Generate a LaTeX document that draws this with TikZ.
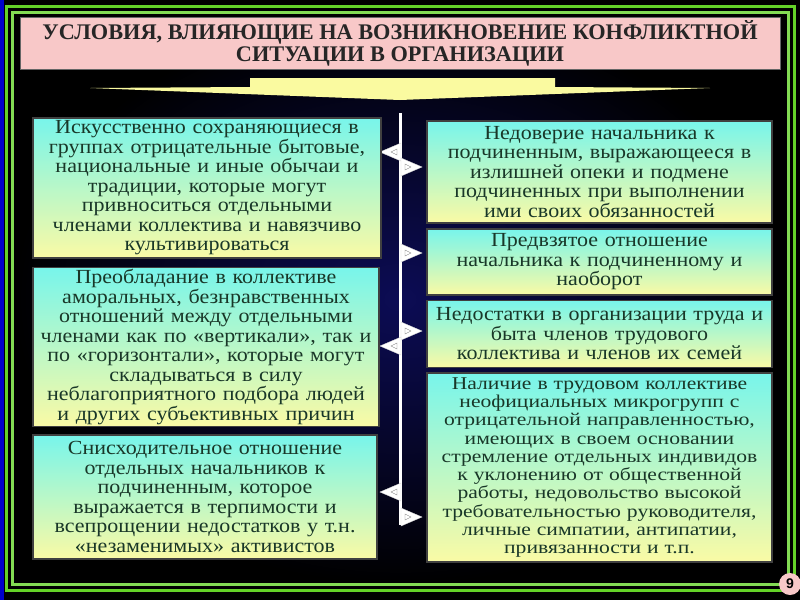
\documentclass[tikz,border=0pt]{standalone}
\usepackage{fontspec}
\setmainfont{Liberation Serif}
\setsansfont{Liberation Sans}
\newfontfamily\boxfont{Liberation Serif}[FakeStretch=1.1]
\newfontfamily\wideboxfont{Liberation Serif}[FakeStretch=1.2]
\usetikzlibrary{shapes.geometric, positioning, calc}

\definecolor{framegreen}{RGB}{100,210,40}
\definecolor{titlepink}{RGB}{248,200,200}
\definecolor{boxtop}{RGB}{120,245,235}
\definecolor{boxbot}{RGB}{250,250,165}
\definecolor{boxtext}{RGB}{25,55,40}
\definecolor{arrowyellow}{RGB}{250,250,160}
\definecolor{navy}{RGB}{12,12,85}

\begin{document}
\begin{tikzpicture}[x=1pt, y=-1pt,
  causebox/.style={draw=black!75, line width=1.5pt, top color=boxtop, bottom color=boxbot,
    text=boxtext, align=center, inner sep=1pt,
    font=\boxfont\fontsize{20}{19.5}\selectfont},
  flagmark/.style={fill=white, draw=white!85!black, line width=0.4pt}]
  \useasboundingbox (0,0) rectangle (800,600);

  % Background and frame
  \fill[black] (0,0) rectangle (800,600);
  \fill[blue!80!black] (0,0) rectangle (4,600);
  \shade[inner color=navy, outer color=black] (14,14) rectangle (786,584);
  \draw[framegreen, line width=3pt] (6,6) rectangle (794,590);
  \draw[framegreen!80!white, line width=3pt] (12,12) rectangle (788,584);

  % Title
  \node[fill=titlepink, draw=black!60, minimum width=760, minimum height=47,
    text=black!85, font=\fontsize{22.3}{22}\selectfont\bfseries, align=center]
    (title) at (400,43) {УСЛОВИЯ, ВЛИЯЮЩИЕ НА ВОЗНИКНОВЕНИЕ КОНФЛИКТНОЙ\\СИТУАЦИИ В ОРГАНИЗАЦИИ};

  % Flat arrow under the title
  \fill[arrowyellow] (250,78) -- (555,78) -- (555,87) -- (710,88) -- (400,100)
    -- (90,88) -- (250,87) -- cycle;

  % Spine
  \coordinate (top) at (400,113);
  \coordinate (bot) at (400,525);
  \draw[white, line width=3pt] (top) -- (bot);

  % Flags on the spine (y / side)
  \foreach \y/\d in {152/-1, 167/1, 253/1, 331/1, 346/-1, 492/-1, 517/1} {
    \filldraw[flagmark] (401,\y-9) -- (401+\d*21,\y) -- (401,\y+9) -- cycle;
    \draw[gray, line width=0.4pt] (401+\d*4,\y-3) -- (401+\d*10,\y) -- (401+\d*4,\y+3) -- cycle;
  }

  % Left column
  \node[causebox, minimum width=348, minimum height=140, text width=344] (l1) at (207,188)
    {Искусственно сохраняющиеся в\\группах отрицательные бытовые,\\национальные и иные обычаи и\\традиции, которые могут\\привноситься отдельными\\членами коллектива и навязчиво\\культивироваться};
  \node[causebox, minimum width=346, minimum height=159, text width=342] (l2) at (206,347)
    {Преобладание в коллективе\\аморальных, безнравственных\\отношений между отдельными\\членами как по «вертикали», так и\\по «горизонтали», которые могут\\складываться в силу\\неблагоприятного подбора людей\\и других субъективных причин};
  \node[causebox, minimum width=344, minimum height=124, text width=340] (l3) at (205,497)
    {Снисходительное отношение\\отдельных начальников к\\подчиненным, которое\\выражается в терпимости и\\всепрощении недостатков у т.н.\\«незаменимых» активистов};

  % Right column
  \node[causebox, minimum width=345, minimum height=102, text width=341] (r1) at (599.5,172)
    {Недоверие начальника к\\подчиненным, выражающееся в\\излишней опеки и подмене\\подчиненных при выполнении\\ими своих обязанностей};
  \node[causebox, minimum width=345, minimum height=66, text width=341] (r2) at (599.5,262)
    {Предвзятое отношение\\начальника к подчиненному и\\наоборот};
  \node[causebox, minimum width=345, minimum height=67, text width=341] (r3) at (599.5,334)
    {Недостатки в организации труда и\\быта членов трудового\\коллектива и членов их семей};
  \node[causebox, minimum width=345, minimum height=189, text width=341,
    font=\wideboxfont\fontsize{18}{18.3}\selectfont] (r4) at (599.5,467.5)
    {Наличие в трудовом коллективе\\неофициальных микрогрупп с\\отрицательной направленностью,\\имеющих в своем основании\\стремление отдельных индивидов\\к уклонению от общественной\\работы, недовольство высокой\\требовательностью руководителя,\\личные симпатии, антипатии,\\привязанности и т.п.};

  % Page number
  \node[circle, fill=titlepink, minimum size=22, inner sep=0pt,
    font=\sffamily\bfseries\fontsize{14}{14}\selectfont] (page) at (790,584) {9};
\end{tikzpicture}
\end{document}
